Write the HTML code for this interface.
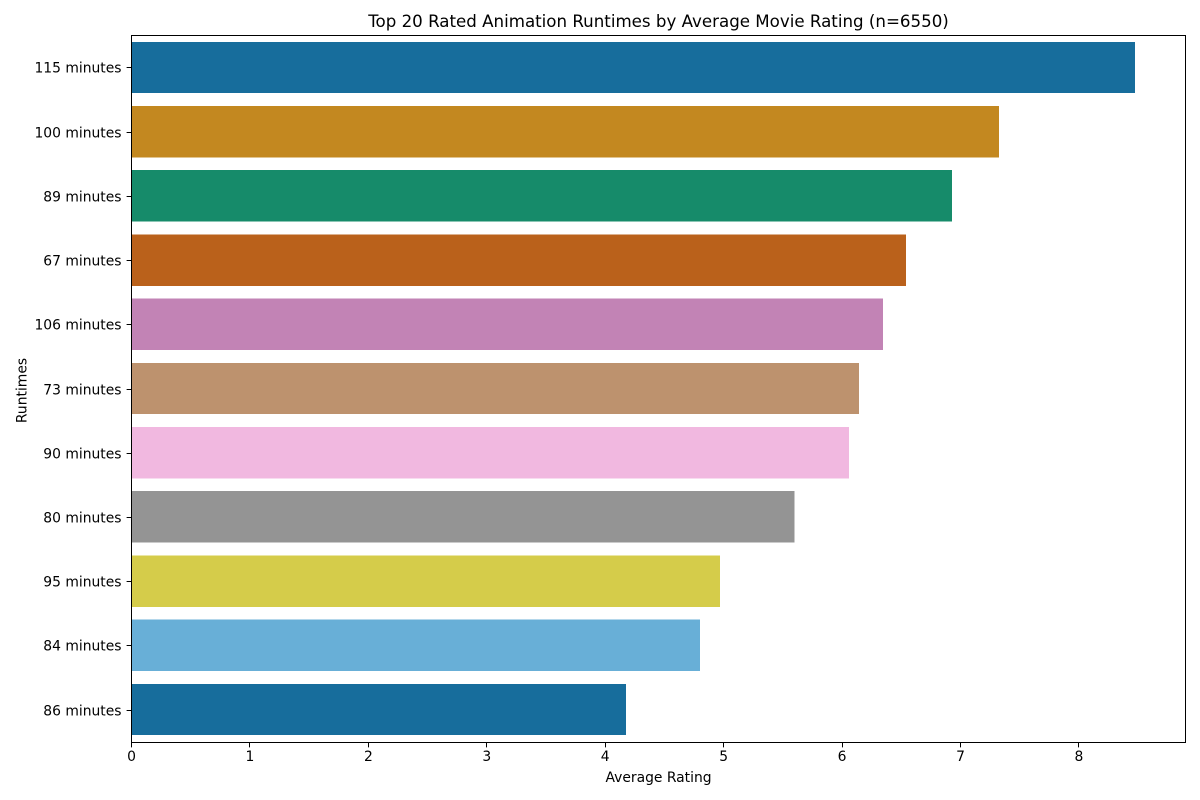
<!DOCTYPE html>
<html>
<head>
<meta charset="utf-8">
<title>Top 20 Rated Animation Runtimes</title>
<style>
html,body{margin:0;padding:0;background:#fff;width:1200px;height:800px;overflow:hidden}
svg{display:block}
text{font-family:"DejaVu Sans",sans-serif;fill:#000}
</style>
</head>
<body>
<svg id="chart" width="1200" height="800" viewBox="0 0 1200 800" xmlns="http://www.w3.org/2000/svg">
  <rect x="0" y="0" width="1200" height="800" fill="#fff"/>
  <text id="title" x="658.5" y="27" font-size="16.67" text-anchor="middle">Top 20 Rated Animation Runtimes by Average Movie Rating (n=6550)</text>
  <g id="bars" shape-rendering="crispEdges"></g>
  <g id="x-axis"></g>
  <g id="y-axis"></g>
  <rect x="131.5" y="35.5" width="1054" height="707" fill="none" stroke="#000" stroke-width="1"/>
  <text x="658.5" y="782" font-size="13.89" text-anchor="middle">Average Rating</text>
  <text transform="translate(26.5 390.5) rotate(-90)" font-size="13.89" text-anchor="middle">Runtimes</text>
</svg>
<script>
const categories = ["115 minutes","100 minutes","89 minutes","67 minutes","106 minutes","73 minutes","90 minutes","80 minutes","95 minutes","84 minutes","86 minutes"];
const ratings = [8.475,7.325,6.93,6.54,6.345,6.145,6.06,5.6,4.97,4.8,4.175];
const barColors = ["#176d9c","#c38820","#168b6a","#ba611b","#c283b5","#bd926e","#f1b8e0","#949494","#d5cc4a","#68afd7","#176d9c"];
const xTicks = [0,1,2,3,4,5,6,7,8];

const NS = "http://www.w3.org/2000/svg";
const plot = {left:131.5, right:1185.5, top:35.395, bottom:741.62};
const xMax = 8.9;
function xScale(v){ return plot.left + v / xMax * (plot.right - plot.left); }
function bandHeight(){ return (plot.bottom - plot.top) / categories.length; }
function yCenter(i){ return plot.top + (i + 0.5) * bandHeight(); }
function make(tag, attrs, parent){
  const el = document.createElementNS(NS, tag);
  for (const k in attrs) el.setAttribute(k, attrs[k]);
  parent.appendChild(el);
  return el;
}
const barsG = document.getElementById("bars");
const xG = document.getElementById("x-axis");
const yG = document.getElementById("y-axis");

categories.forEach(function(cat, i){
  const h = bandHeight() * 0.8;
  const bar = make("rect", {x:plot.left, y:yCenter(i) - h / 2, width:xScale(ratings[i]) - plot.left, height:h, fill:barColors[i % barColors.length]}, barsG);
  
  

  const cy = Math.round(yCenter(i)) + 0.5;
  const tick = make("line", {x1:plot.left - 4.9, x2:plot.left, y1:cy, y2:cy, stroke:"#000", "stroke-width":1}, yG);
  
  

  const label = make("text", {x:plot.left - 10, y:cy + 5, "font-size":"13.89", "text-anchor":"end"}, yG);
  label.textContent = cat;
  
  
});

xTicks.forEach(function(t){
  const px = Math.round(xScale(t) - 0.5) + 0.5;
  const tick = make("line", {x1:px, x2:px, y1:742.5, y2:747.4, stroke:"#000", "stroke-width":1}, xG);
  
  

  const label = make("text", {x:xScale(t), y:761, "font-size":"13.89", "text-anchor":"middle"}, xG);
  label.textContent = String(t);
  
  
});
</script>
</body>
</html>
